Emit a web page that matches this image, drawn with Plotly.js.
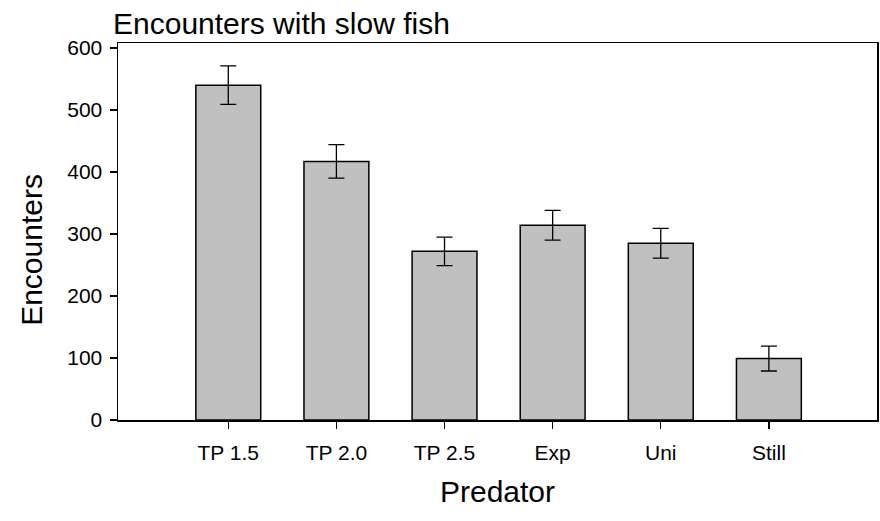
<!DOCTYPE html>
<html>
<head>
<meta charset="utf-8">
<script src="https://cdn.plot.ly/plotly-3.0.1.min.js"></script>
<style>html,body{margin:0;padding:0;background:#fff;}#chart{width:880px;height:521px;}</style>
</head>
<body>
<div id="chart"></div>
<script>
const categories = ["TP 1.5", "TP 2.0", "TP 2.5", "Exp", "Uni", "Still"];
const encounters = [540, 417, 272, 314, 285, 99];
const errors = [31, 27, 23, 24, 24, 20];
const yTicks = [0, 100, 200, 300, 400, 500, 600];
const yTitle = "Encounters";

const trace = {
  type: 'bar',
  x: categories,
  y: encounters,
  width: 0.6,
  marker: {color: '#c0c0c0', line: {color: '#000', width: 1.5}},
  error_y: {type: 'data', array: errors, visible: true, color: '#000', thickness: 1.3, width: 8}
};

const layout = {
  width: 880, height: 521,
  margin: {l: 118, r: 3, t: 43, b: 101},
  paper_bgcolor: '#fff', plot_bgcolor: '#fff',
  showlegend: false,
  font: {family: 'Liberation Sans, Arial, sans-serif', color: '#000'},
  title: {text: 'Encounters with slow fish', font: {size: 30, color: '#000'},
          xref: 'container', x: 113/880, xanchor: 'left',
          yref: 'container', y: 1 - 34/521, yanchor: 'bottom', pad: {b: 0}},
  xaxis: {
    type: 'category', range: [-1.02, 6.0],
    showline: true, linecolor: '#000', linewidth: 1.5, mirror: true,
    ticks: 'outside', ticklen: 7, tickwidth: 1.3, tickcolor: '#000',
    showgrid: false, zeroline: false,
    tickfont: {size: 21, color: '#000'}, ticklabelstandoff: 6,
    title: {text: 'Predator', font: {size: 30, color: '#000'}, standoff: 18}
  },
  yaxis: {
    range: [0, 608], tickvals: yTicks,
    showline: true, linecolor: '#000', linewidth: 1.5, mirror: true,
    ticks: 'outside', ticklen: 7, tickwidth: 1.3, tickcolor: '#000',
    showgrid: false, zeroline: false,
    tickfont: {size: 21, color: '#000'}, ticklabelstandoff: 3
  },
  annotations: [{
    text: yTitle, textangle: -90, showarrow: false,
    xref: 'paper', yref: 'paper',
    x: (32 - 118) / 759, y: (420.3 - 250) / 377.3,
    xanchor: 'center', yanchor: 'middle',
    font: {size: 30, color: '#000'}
  }]
};

Plotly.newPlot('chart', [trace], layout, {displayModeBar: false, staticPlot: true});
</script>
</body>
</html>
